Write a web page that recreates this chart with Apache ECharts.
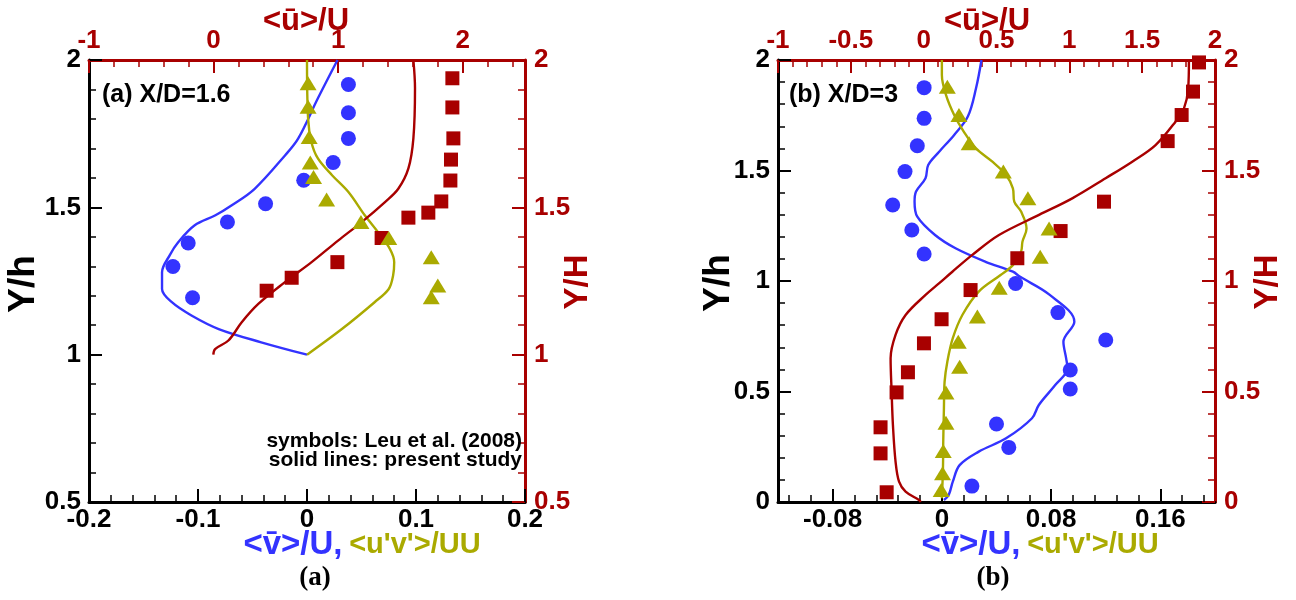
<!DOCTYPE html>
<html><head><meta charset="utf-8">
<script src="https://cdn.jsdelivr.net/npm/echarts@6/dist/echarts.min.js"></script>
<style>html,body{margin:0;padding:0;background:#fff}#c{width:1296px;height:600px}</style>
</head><body><div id="c"></div>
<script>
// ---------- Panel (a) X/D = 1.6 ----------
// <v>/U symbols (Leu et al.) : [v/U, Y/h]
const aVSym = [[0.038,1.917],[0.038,1.821],[0.038,1.734],[0.024,1.652],[-0.003,1.592],[-0.038,1.512],[-0.073,1.450],[-0.109,1.379],[-0.123,1.299],[-0.105,1.193]];
// <v>/U present study
const aVLine = [[0.028,2.0],[0.010,1.870],[-0.008,1.734],[-0.020,1.677],[-0.048,1.563],[-0.069,1.507],[-0.084,1.473],[-0.103,1.439],[-0.118,1.382],[-0.126,1.337],[-0.133,1.280],[-0.133,1.223],[-0.124,1.178],[-0.106,1.133],[-0.081,1.087],[-0.042,1.042],[0.0,1.0]];
// <u'v'>/UU symbols
const aUVSym = [[0.001,1.921],[0.001,1.841],[0.002,1.739],[0.003,1.652],[0.006,1.603],[0.018,1.527],[0.0495,1.450],[0.075,1.396],[0.114,1.331],[0.120,1.235],[0.114,1.195]];
// <u'v'>/UU present study
const aUVLine = [[0.0,2.0],[0.001,1.802],[0.004,1.722],[0.010,1.666],[0.023,1.609],[0.038,1.552],[0.053,1.473],[0.065,1.416],[0.076,1.359],[0.080,1.314],[0.079,1.269],[0.075,1.223],[0.062,1.178],[0.032,1.087],[0.0,1.0]];
// <u>/U symbols : [u/U, Y/H]
const aUSym = [[1.917,1.938],[1.917,1.839],[1.925,1.734],[1.906,1.662],[1.901,1.591],[1.828,1.520],[1.724,1.482],[1.564,1.465],[1.349,1.396],[0.994,1.314],[0.627,1.261],[0.426,1.217]];
// <u>/U present study
const aULine = [[1.604,2.0],[1.617,1.904],[1.604,1.734],[1.564,1.632],[1.483,1.563],[1.376,1.518],[1.189,1.450],[1.002,1.388],[0.787,1.314],[0.573,1.246],[0.359,1.172],[0.226,1.110],[0.119,1.048],[0.012,1.019],[-0.002,1.0]];

// ---------- Panel (b) X/D = 3 ----------
const bVSym = [[-0.013,1.875],[-0.013,1.736],[-0.018,1.612],[-0.027,1.495],[-0.036,1.344],[-0.022,1.231],[-0.013,1.122],[0.054,0.989],[0.085,0.857],[0.120,0.733],[0.094,0.597],[0.094,0.511],[0.040,0.353],[0.049,0.247],[0.022,0.072]];
const bVLine = [[0.029,2.0],[0.025,1.872],[0.019,1.744],[0.009,1.661],[-0.002,1.585],[-0.010,1.525],[-0.012,1.465],[-0.019,1.404],[-0.020,1.359],[-0.018,1.291],[-0.005,1.208],[0.010,1.148],[0.032,1.087],[0.052,1.042],[0.057,1.020],[0.079,0.937],[0.097,0.816],[0.089,0.725],[0.091,0.650],[0.092,0.605],[0.083,0.529],[0.071,0.439],[0.066,0.379],[0.047,0.288],[0.027,0.228],[0.013,0.167],[0.008,0.092],[0.005,0.032],[0.0015,0.009]];
const bUVSym = [[0.004,1.879],[0.0125,1.751],[0.020,1.623],[0.045,1.495],[0.063,1.374],[0.0785,1.238],[0.072,1.110],[0.042,0.970],[0.026,0.839],[0.012,0.725],[0.013,0.612],[0.003,0.496],[0.003,0.359],[0.001,0.231],[0.0005,0.130],[-0.0005,0.054]];
const bUVLine = [[0.0,2.0],[0.0,1.932],[0.003,1.842],[0.009,1.751],[0.016,1.676],[0.025,1.600],[0.037,1.540],[0.047,1.480],[0.052,1.419],[0.053,1.359],[0.058,1.314],[0.062,1.238],[0.059,1.178],[0.058,1.133],[0.052,1.072],[0.043,1.027],[0.027,0.952],[0.015,0.846],[0.008,0.741],[0.004,0.635],[0.002,0.545],[0.0015,0.424],[0.001,0.273],[0.0008,0.152],[0.0,0.017]];
const bUSym = [[1.890,1.989],[1.849,1.857],[1.771,1.751],[1.675,1.633],[1.238,1.359],[0.940,1.226],[0.643,1.103],[0.322,0.959],[0.123,0.827],[0.002,0.718],[-0.108,0.587],[-0.186,0.496],[-0.296,0.338],[-0.296,0.220],[-0.254,0.044]];
const bULine = [[1.821,2.0],[1.816,1.872],[1.787,1.781],[1.729,1.721],[1.592,1.615],[1.432,1.540],[1.249,1.465],[1.020,1.374],[0.792,1.299],[0.517,1.208],[0.334,1.118],[0.197,1.042],[0.105,0.989],[0.013,0.937],[-0.124,0.846],[-0.193,0.756],[-0.227,0.650],[-0.220,0.499],[-0.211,0.348],[-0.193,0.183],[-0.169,0.092],[-0.124,0.047],[-0.032,0.009],[-0.02,0.0]];

// tick labels
const aBottomTicks = [-0.2,-0.1,0,0.1,0.2];
const aTopTicks = [-1,0,1,2];
const aYTicks = [0.5,1,1.5,2];
const bBottomTicks = [-0.08,0,0.08,0.16];
const bTopTicks = [-1,-0.5,0,0.5,1,1.5,2];
const bYTicks = [0,0.5,1,1.5,2];

const BLUE = '#3333ff', RED = '#a80000', OLIVE = '#aaaa00', BLACK = '#000';
const FONT = 'Liberation Sans';

function minorVals(min, max, step, majors) {
  const out = [];
  const n = Math.round((max - min) / step);
  for (let i = 0; i <= n; i++) {
    const v = +(min + i * step).toFixed(6);
    if (!majors.some(m => Math.abs(m - v) < 1e-9)) out.push(v);
  }
  return out;
}

function valAxis(o) {
  const color = o.color;
  const ax = {
    type: 'value', gridIndex: o.grid, position: o.position,
    min: o.min, max: o.max,
    splitLine: { show: false },
    axisLine: { show: true, onZero: false, lineStyle: { color, width: 3 } },
    axisTick: { show: true, inside: true, length: 13, lineStyle: { color, width: 2 } },
    axisLabel: { show: true, color, fontFamily: FONT, fontWeight: 'bold', fontSize: 26, margin: o.margin || 7 }
  };
  if (o.custom) {
    ax.axisTick.customValues = o.ticks;
    ax.axisLabel.customValues = o.ticks;
    ax.minorTick = { show: false };
  } else {
    ax.interval = o.interval;
    ax.minorTick = { show: true, splitNumber: 5, length: 7, lineStyle: { color, width: 1.5 } };
  }
  return ax;
}
function minorAxis(o) {
  return {
    type: 'value', gridIndex: o.grid, position: o.position, min: o.min, max: o.max,
    splitLine: { show: false }, axisLine: { show: false },
    axisLabel: { show: false },
    axisTick: { show: true, inside: true, length: 7, customValues: o.vals, lineStyle: { color: o.color, width: 1.5 } }
  };
}

const xAxis = [
  valAxis({ grid: 0, position: 'bottom', min: -0.2, max: 0.2, interval: 0.1, color: BLACK, margin: 5 }),
  valAxis({ grid: 0, position: 'top', min: -1, max: 2.5, custom: true, ticks: aTopTicks, color: RED, margin: 6 }),
  valAxis({ grid: 1, position: 'bottom', min: -0.12, max: 0.2, custom: true, ticks: bBottomTicks, color: BLACK, margin: 5 }),
  valAxis({ grid: 1, position: 'top', min: -1, max: 2, interval: 0.5, color: RED, margin: 6 }),
  minorAxis({ grid: 0, position: 'top', min: -1, max: 2.5, vals: minorVals(-1, 2.4, 0.2, aTopTicks), color: RED }),
  minorAxis({ grid: 1, position: 'bottom', min: -0.12, max: 0.2, vals: minorVals(-0.112, 0.192, 0.016, bBottomTicks), color: BLACK })
];
const yAxis = [
  valAxis({ grid: 0, position: 'left', min: 0.5, max: 2, interval: 0.5, color: BLACK, margin: 8 }),
  valAxis({ grid: 0, position: 'right', min: 0.5, max: 2, interval: 0.5, color: RED, margin: 9 }),
  valAxis({ grid: 1, position: 'left', min: 0, max: 2, interval: 0.5, color: BLACK, margin: 8 }),
  valAxis({ grid: 1, position: 'right', min: 0, max: 2, interval: 0.5, color: RED, margin: 9 })
];

function line(data, xi, yi, color) {
  return { type: 'line', data, xAxisIndex: xi, yAxisIndex: yi, showSymbol: false, smooth: 0.35,
    lineStyle: { color, width: 2.4 }, z: 2, silent: true };
}
function sym(data, xi, yi, color, symbol, size) {
  return { type: 'scatter', data, xAxisIndex: xi, yAxisIndex: yi, symbol, symbolSize: size,
    itemStyle: { color, opacity: 1 }, z: 3, silent: true };
}
const CIRC = 15, SQ = 14, TRI = [17, 14];

const series = [
  line(aVLine, 0, 0, BLUE), line(aUVLine, 0, 0, OLIVE), line(aULine, 1, 1, RED),
  sym(aVSym, 0, 0, BLUE, 'circle', CIRC), sym(aUSym, 1, 1, RED, 'rect', SQ), sym(aUVSym, 0, 0, OLIVE, 'triangle', TRI),
  line(bVLine, 2, 2, BLUE), line(bUVLine, 2, 2, OLIVE), line(bULine, 3, 3, RED),
  sym(bVSym, 2, 2, BLUE, 'circle', CIRC), sym(bUSym, 3, 3, RED, 'rect', SQ), sym(bUVSym, 2, 2, OLIVE, 'triangle', TRI)
];

function txt(x, y, text, o) {
  return { type: 'text', x, y, rotation: o.rot || 0, z: 100, silent: true,
    style: Object.assign({ text, fontFamily: FONT, fontWeight: 'bold', fontSize: 24, fill: BLACK,
      textAlign: 'center', textVerticalAlign: 'middle' }, o.style || {}) };
}
const bottomRich = {
  b: { fontFamily: FONT, fontWeight: 'bold', fontSize: 33, fill: BLUE, color: BLUE },
  o: { fontFamily: FONT, fontWeight: 'bold', fontSize: 29, fill: OLIVE, color: OLIVE }
};
const bottomTitle = '{b|<v\u0304>/U,} {o|<u\'v\'>/UU}';

const graphic = [
  txt(24, 284, 'Y/h', { rot: Math.PI / 2, style: { fontSize: 37 } }),
  txt(578, 282, 'Y/H', { rot: Math.PI / 2, style: { fontSize: 33, fill: RED } }),
  txt(306, 21, '<\u016b>/U', { style: { fontSize: 31, fill: RED } }),
  txt(362, 545, bottomTitle, { style: { rich: bottomRich } }),
  txt(102, 95, '(a) X/D=1.6', { style: { fontSize: 25, textAlign: 'left' } }),
  txt(522, 441, 'symbols: Leu et al. (2008)', { style: { fontSize: 21, textAlign: 'right' } }),
  txt(522, 460, 'solid lines: present study', { style: { fontSize: 21, textAlign: 'right' } }),
  txt(315, 578, '(a)', { style: { fontFamily: 'Liberation Serif', fontSize: 27 } }),

  txt(719, 283, 'Y/h', { rot: Math.PI / 2, style: { fontSize: 37 } }),
  txt(1268, 282, 'Y/H', { rot: Math.PI / 2, style: { fontSize: 33, fill: RED } }),
  txt(987, 21, '<\u016b>/U', { style: { fontSize: 31, fill: RED } }),
  txt(1040, 545, bottomTitle, { style: { rich: bottomRich } }),
  txt(789, 95, '(b) X/D=3', { style: { fontSize: 25, textAlign: 'left' } }),
  txt(993, 578, '(b)', { style: { fontFamily: 'Liberation Serif', fontSize: 27 } })
];

const chart = echarts.init(document.getElementById('c'), null, { renderer: 'canvas' });
chart.setOption({
  animation: false,
  backgroundColor: '#fff',
  textStyle: { fontFamily: FONT },
  grid: [
    { left: 89, right: 1296 - 525, top: 60, bottom: 98, containLabel: false },
    { left: 778, right: 1296 - 1215, top: 60, bottom: 98, containLabel: false }
  ],
  xAxis, yAxis, series, graphic
});
</script>
</body></html>
